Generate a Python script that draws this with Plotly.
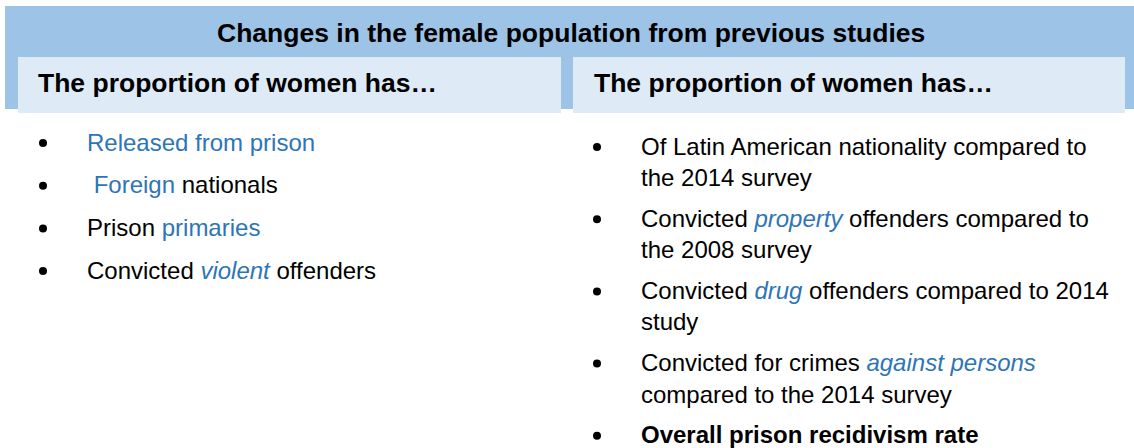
import plotly.graph_objects as go

# ---- content ----
title_text = "Changes in the female population from previous studies"
column_headers = ["The proportion of women has…", "The proportion of women has…"]

BLUE = "#2E75B6"

def blue(t, italic=False):
    s = f"<span style='color:{BLUE}'>{t}</span>"
    return f"<i>{s}</i>" if italic else s

left_items = [
    [blue("Released from prison")],
    [blue("\u00a0Foreign") + " nationals"],
    ["Prison " + blue("primaries")],
    ["Convicted " + blue("violent", True) + " offenders"],
]

right_items = [
    ["Of Latin American nationality compared to", "the 2014 survey"],
    ["Convicted " + blue("property", True) + " offenders compared to", "the 2008 survey"],
    ["Convicted " + blue("drug", True) + " offenders compared to 2014", "study"],
    ["Convicted for crimes " + blue("against persons", True), "compared to the 2014 survey"],
    ["<b>Overall prison recidivism rate</b>"],
]

# ---- layout constants (pixels) ----
W, H = 1134, 448
FONT = "Liberation Sans, Arial, sans-serif"
DARK = "#9DC3E6"
LIGHT = "#DEEBF7"

fig = go.Figure()

shapes = [
    dict(type="rect", x0=5, x1=1134, y0=6, y1=109, fillcolor=DARK, line_width=0, layer="below"),
    dict(type="rect", x0=18, x1=561, y0=57, y1=113, fillcolor=LIGHT, line_width=0, layer="below"),
    dict(type="rect", x0=573, x1=1125, y0=57, y1=113, fillcolor=LIGHT, line_width=0, layer="below"),
]

ann = []
def text(x, y, t, size=24, anchor="left", bold=False):
    ann.append(dict(x=x, y=y, xref="x", yref="y", text=(f"<b>{t}</b>" if bold else t),
                    showarrow=False, xanchor=anchor, yanchor="middle",
                    font=dict(family=FONT, size=size, color="#000000"),
                    borderpad=0))

text(570.5, 33, title_text, size=26.5, anchor="center", bold=True)
text(37, 83, column_headers[0], size=26.5, bold=True)
text(593, 83, column_headers[1], size=26.5, bold=True)

bx, by = [], []
# left list
for i, item in enumerate(left_items):
    y = 142 + 42.7 * i
    bx.append(43); by.append(y + 1)
    text(86, y, item[0])

# right list
y = 146
for item in right_items:
    bx.append(597); by.append(y + 1)
    for j, line in enumerate(item):
        text(640, y + 31.5 * j, line)
    y += 72.2

fig.add_trace(go.Scatter(x=bx, y=by, mode="markers",
                         marker=dict(size=8, color="#000000", line_width=0),
                         hoverinfo="skip", showlegend=False))

fig.update_layout(
    width=W, height=H, margin=dict(l=0, r=0, t=0, b=0),
    paper_bgcolor="white", plot_bgcolor="white",
    xaxis=dict(range=[0, W], visible=False, fixedrange=True),
    yaxis=dict(range=[H, 0], visible=False, fixedrange=True),
    shapes=shapes, annotations=ann, showlegend=False,
)

fig.write_html("out.html", config={"displayModeBar": False},
               post_script="document.body.style.margin='0';document.body.style.overflow='hidden';")
